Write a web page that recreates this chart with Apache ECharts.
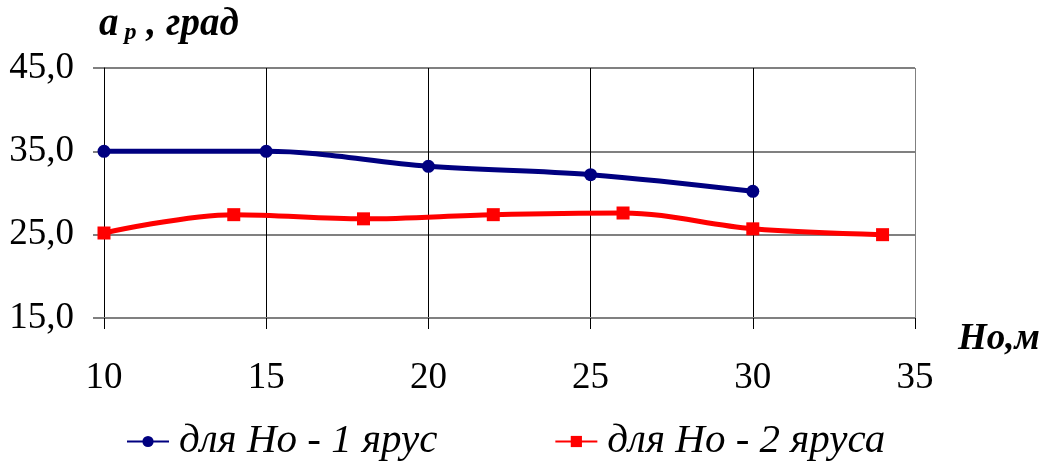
<!DOCTYPE html>
<html>
<head>
<meta charset="utf-8">
<script src="https://cdn.jsdelivr.net/npm/echarts@6/dist/echarts.min.js"></script>
<style>
  html, body { margin: 0; padding: 0; background: #fff; }
  #chart { width: 1046px; height: 464px; }
</style>
</head>
<body>
<div id="chart"></div>
<script>
// values
const xTicks = [10, 15, 20, 25, 30, 35];
const tier1X = [10, 15, 20, 25, 30];
const tier1Y = [35.0, 35.0, 33.2, 32.2, 30.2];
const tier2X = [10, 14, 18, 22, 26, 30, 34];
const tier2Y = [25.2, 27.4, 26.9, 27.4, 27.6, 25.7, 25.0];
const seriesNames = ['для Но - 1 ярус', 'для Но - 2 яруса'];

const FONT = 'Liberation Serif';

const chart = echarts.init(document.getElementById('chart'));

const pairs = (xs, ys) => xs.map((x, i) => [x, ys[i]]);

chart.setOption({
  animation: false,
  textStyle: { fontFamily: FONT },
  title: [
    {
      text: '{a|a}{s|p}{a|, град}',
      left: 94,
      top: 0,
      textStyle: {
        rich: {
          a: { fontFamily: FONT, fontSize: 39, fontWeight: 'bold', fontStyle: 'italic', color: '#000' },
          s: { fontFamily: FONT, fontSize: 24, fontWeight: 'bold', fontStyle: 'italic', color: '#000', padding: [16, 10, 0, 6] }
        }
      }
    },
    {
      text: 'Но,м',
      left: 953,
      top: 316,
      textStyle: { fontFamily: FONT, fontSize: 37, fontWeight: 'bold', fontStyle: 'italic', color: '#000' }
    }
  ],
  legend: {
    bottom: 2,
    left: 126,
    padding: 0,
    itemGap: 117,
    itemWidth: 42,
    itemHeight: 14,
    textStyle: { fontFamily: FONT, fontSize: 41, fontStyle: 'italic', color: '#000', padding: [0, 0, 0, 5] },
    data: seriesNames
  },
  grid: { left: 104, right: 131, top: 68, bottom: 146 },
  xAxis: {
    type: 'value',
    min: 10,
    max: 35,
    interval: 5,
    axisLine: { onZero: false, lineStyle: { color: '#808080', width: 2 } },
    axisTick: { length: 11, lineStyle: { color: '#000', width: 1 } },
    axisLabel: {
      margin: 42,
      fontFamily: FONT, fontSize: 37, color: '#000',
      formatter: v => String(v)
    },
    splitLine: {
      show: true,
      lineStyle: { color: ['#000', '#000', '#000', '#000', '#000', '#808080'], width: 1 }
    }
  },
  yAxis: {
    type: 'value',
    min: 15,
    max: 45,
    interval: 10,
    axisLine: { show: true, lineStyle: { color: '#000', width: 1 } },
    axisTick: { show: true, length: 11, lineStyle: { color: '#808080', width: 2 } },
    axisLabel: {
      margin: 30,
      padding: [8, 0, 0, 0],
      fontFamily: FONT, fontSize: 37, color: '#000',
      formatter: v => v.toFixed(1).replace('.', ',')
    },
    splitLine: { show: true, lineStyle: { color: '#808080', width: 2 } }
  },
  series: [
    {
      name: seriesNames[0],
      type: 'line',
      smooth: 0.35,
      data: pairs(tier1X, tier1Y),
      symbol: 'circle',
      symbolSize: 13,
      itemStyle: { color: '#000080' },
      lineStyle: { color: '#000080', width: 5 }
    },
    {
      name: seriesNames[1],
      type: 'line',
      smooth: 0.35,
      data: pairs(tier2X, tier2Y),
      symbol: 'rect',
      symbolSize: 13,
      itemStyle: { color: '#ff0000' },
      lineStyle: { color: '#ff0000', width: 5 }
    }
  ]
});
</script>
</body>
</html>
